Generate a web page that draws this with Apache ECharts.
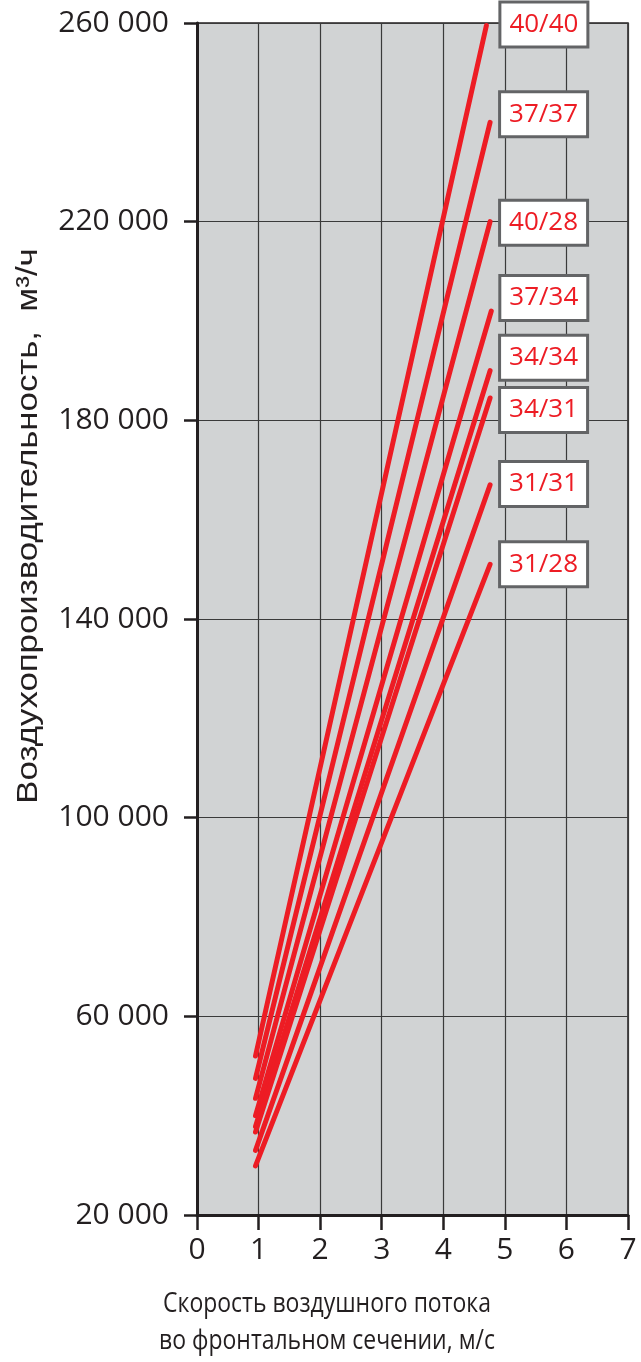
<!DOCTYPE html>
<html><head><meta charset="utf-8">
<script src="https://cdn.jsdelivr.net/npm/echarts@6/dist/echarts.min.js"></script>
<style>html,body{margin:0;padding:0;background:#fff}#c{width:641px;height:1362px}</style>
</head><body><div id="c"></div>
<script>
// ---- data ----
const seriesNames = ['40/40', '37/37', '40/28', '37/34', '34/34', '34/31', '31/31', '31/28'];
const speedStart  = [0.95, 0.95, 0.95, 0.95, 0.95, 0.95, 0.95, 0.95];
const speedEnd    = [4.70, 4.76, 4.76, 4.78, 4.76, 4.76, 4.76, 4.76];
const flowStart   = [52000, 47500, 43500, 40000, 37800, 36700, 33000, 29900];
const flowEnd     = [259500, 240000, 220000, 202000, 190000, 184500, 167000, 151000];
const yTickValues = [20000, 60000, 100000, 140000, 180000, 220000, 260000];
const xTickValues = [0, 1, 2, 3, 4, 5, 6, 7];
const xTitle = 'Скорость воздушного потока\nво фронтальном сечении, м/с';
const yTitle = 'Воздухопроизводительность,  м³/ч';

// ---- label box offsets (layout only) ----
const labelOffsets = [[15, -1], [11, -8], [11, 1], [10, -13], [11, -13], [11, 12], [11, -1], [11, 0]];

const RED = '#ED1C24';
const INK = '#231f20';
const fmt = v => String(v).replace(/\B(?=(\d{3})+(?!\d))/g, ' ');

const series = seriesNames.map((name, i) => ({
  type: 'line',
  name: name,
  data: [[speedStart[i], flowStart[i]], [speedEnd[i], flowEnd[i]]],
  symbol: 'none',
  silent: true,
  animation: false,
  z: 5,
  lineStyle: { color: RED, width: 5, cap: 'round' },
  endLabel: {
    show: true,
    formatter: name,
    distance: 0,
    offset: labelOffsets[i],
    color: RED,
    fontFamily: 'Open Sans',
    fontSize: 26,
    lineHeight: 28,
    backgroundColor: '#ffffff',
    borderColor: '#636466',
    borderWidth: 3,
    padding: [8, 8, 6, 8]
  }
}));

const chart = echarts.init(document.getElementById('c'), null, { renderer: 'canvas' });
chart.setOption({
  animation: false,
  backgroundColor: '#ffffff',
  grid: {
    left: 197, right: 13, top: 23, bottom: 147,
    show: true, backgroundColor: '#D1D3D4', borderColor: INK, borderWidth: 1.5
  },
  xAxis: {
    type: 'value', min: 0, max: 7, interval: 1,
    axisLine: { show: true, onZero: false, lineStyle: { color: INK, width: 3 } },
    axisTick: { show: true, inside: false, length: 15, lineStyle: { color: INK, width: 2.5 } },
    axisLabel: {
      show: true, margin: 20, color: INK, fontFamily: 'Open Sans', fontSize: 30,
      showMinLabel: true, showMaxLabel: true,
      customValues: xTickValues
    },
    splitLine: { show: true, lineStyle: { color: '#3a3a3a', width: 1.2 } }
  },
  yAxis: {
    type: 'value', min: 20000, max: 260000, interval: 10000,
    axisLine: { show: true, onZero: false, lineStyle: { color: INK, width: 3 } },
    axisTick: { show: true, inside: false, length: 13, lineStyle: { color: INK, width: 2.5 }, customValues: yTickValues },
    axisLabel: {
      show: true, margin: 28, color: INK, fontFamily: 'Open Sans', fontSize: 30,
      customValues: yTickValues, formatter: v => fmt(v)
    },
    splitLine: { show: true, lineStyle: { color: '#3a3a3a', width: 1.2 } }
  },
  graphic: [
    {
      type: 'text', silent: true, x: 327, y: 1286, scaleX: 0.82,
      style: { text: xTitle, fill: INK, font: '28px "Open Sans"', lineHeight: 37, textAlign: 'center', textVerticalAlign: 'top' }
    },
    {
      type: 'text', silent: true, x: 29, y: 526, rotation: Math.PI / 2, scaleX: 1.16,
      style: { text: yTitle, fill: INK, font: '30px "Liberation Sans"', textAlign: 'center', textVerticalAlign: 'middle' }
    }
  ],
  series: series
});
</script>
</body></html>
